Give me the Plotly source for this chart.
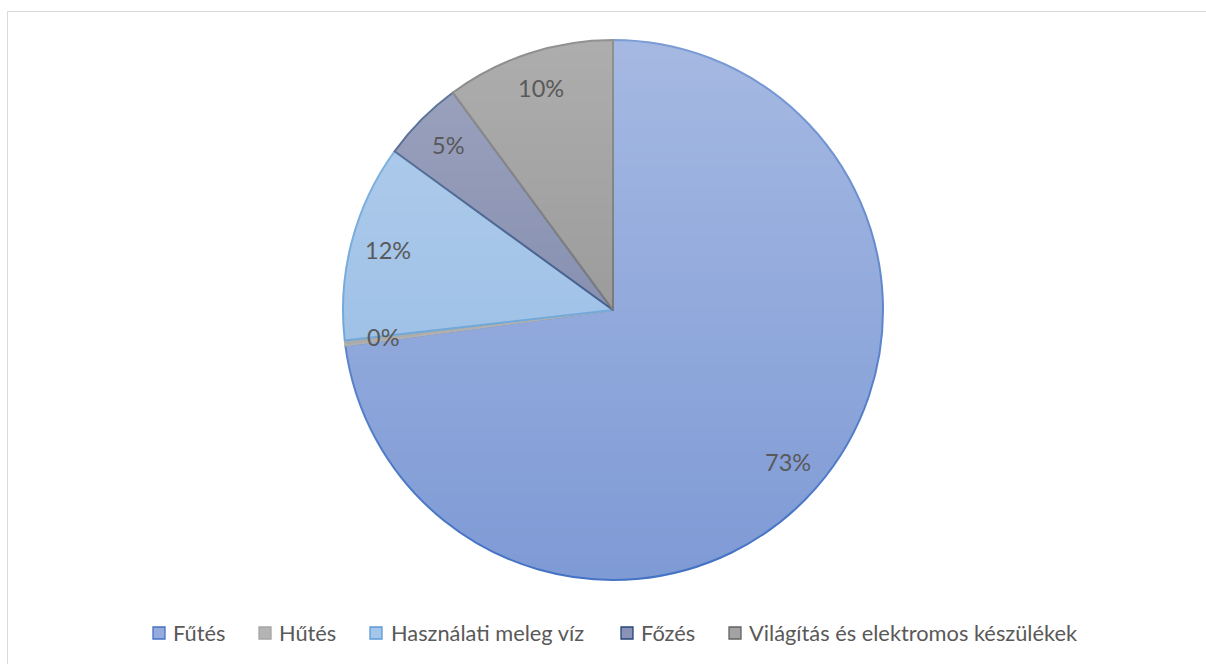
import base64
import math
import struct
import zlib

import plotly.graph_objects as go

# Energy use breakdown (percent)
categories = ["Fűtés", "Hűtés", "Használati meleg víz", "Főzés", "Világítás és elektromos készülékek"]
shares = [72.9, 0.3, 11.8, 4.9, 10.1]

# Slice styling (base fills get a white top-to-bottom sheen from the overlay)
fill_colors = ["#7F9BD6", "#9E9E9E", "#92B9E4", "#747EA4", "#8B8B8B"]
legend_fills = ["#95AADD", "#B4B4B4", "#A4C6EA", "#8A93B5", "#A3A3A3"]
edge_colors = ["#4472C4", "#A5A5A5", "#5B9BD5", "#264478", "#636363"]

W, H = 1206, 664
CX, CY, R = 613, 310, 270
FONT = "Lato"
TEXT_GRAY = "#595959"


def px_x(x):
    return x / W


def px_y(y):
    return 1 - y / H


def gradient_png(height, a_top, a_bottom):
    """1px-wide white PNG whose alpha fades from a_top to a_bottom."""
    raw = b""
    for i in range(height):
        a = a_top + (a_bottom - a_top) * i / (height - 1)
        raw += b"\x00" + bytes([255, 255, 255, int(round(a * 255))])

    def chunk(tag, data):
        c = tag + data
        return struct.pack(">I", len(data)) + c + struct.pack(">I", zlib.crc32(c) & 0xFFFFFFFF)

    png = b"\x89PNG\r\n\x1a\n"
    png += chunk(b"IHDR", struct.pack(">IIBBBBB", 1, height, 8, 6, 0, 0, 0))
    png += chunk(b"IDAT", zlib.compress(raw, 9))
    png += chunk(b"IEND", b"")
    return "data:image/png;base64," + base64.b64encode(png).decode()


fig = go.Figure(
    go.Pie(
        labels=categories,
        values=shares,
        sort=False,
        direction="clockwise",
        rotation=0,
        textinfo="none",
        hoverinfo="label+percent",
        marker=dict(colors=fill_colors, line=dict(color=edge_colors, width=2)),
        domain=dict(x=[px_x(CX - R), px_x(CX + R)], y=[px_y(CY + R), px_y(CY - R)]),
        showlegend=False,
    )
)

# Percentage labels placed inside each slice at its mid angle
annotations = []
total = sum(shares)
cum = 0.0
for v in shares:
    mid = (cum + v / 2) / total * 2 * math.pi
    cum += v
    r = 0.86 * R
    lx = CX + r * math.sin(mid)
    ly = CY - r * math.cos(mid)
    annotations.append(
        dict(
            x=px_x(lx), y=px_y(ly - 1), xref="paper", yref="paper",
            text=f"{round(v / total * 100)}%", showarrow=False,
            font=dict(family=FONT, size=23.5, color=TEXT_GRAY),
            xanchor="center", yanchor="middle",
        )
    )

# Legend row along the bottom
legend_icon_x = [159, 265, 376, 627, 735]
legend_text_x = [171, 277, 389, 639, 747]
legend_y = 633
shapes = [
    dict(
        type="rect", xref="paper", yref="paper",
        x0=px_x(7.5), x1=1.01, y0=-0.01, y1=px_y(11.5),
        line=dict(color="#D9D9D9", width=1), fillcolor="rgba(0,0,0,0)", layer="below",
    )
]
for name, fc, ec, ix, tx in zip(categories, legend_fills, edge_colors, legend_icon_x, legend_text_x):
    shapes.append(
        dict(
            type="rect", xref="paper", yref="paper",
            x0=px_x(ix - 6), x1=px_x(ix + 6), y0=px_y(legend_y + 6), y1=px_y(legend_y - 6),
            fillcolor=fc, line=dict(color=ec, width=1.3), layer="above",
        )
    )
    annotations.append(
        dict(
            x=px_x(tx), y=px_y(legend_y - 0.5), xref="paper", yref="paper",
            text=name, showarrow=False,
            font=dict(family=FONT, size=21.8, color=TEXT_GRAY),
            xanchor="left", yanchor="middle",
        )
    )

fig.update_layout(
    width=W,
    height=H,
    margin=dict(l=0, r=0, t=0, b=0),
    paper_bgcolor="white",
    plot_bgcolor="white",
    shapes=shapes,
    annotations=annotations,
    images=[
        dict(
            source=gradient_png(64, 0.30, 0.0),
            xref="paper", yref="paper",
            x=px_x(CX - R - 3), y=px_y(CY - R - 3),
            sizex=(2 * R + 6) / W, sizey=(2 * R + 6) / H,
            xanchor="left", yanchor="top",
            sizing="stretch", layer="above",
        )
    ],
)

fig.write_html("out.html")
